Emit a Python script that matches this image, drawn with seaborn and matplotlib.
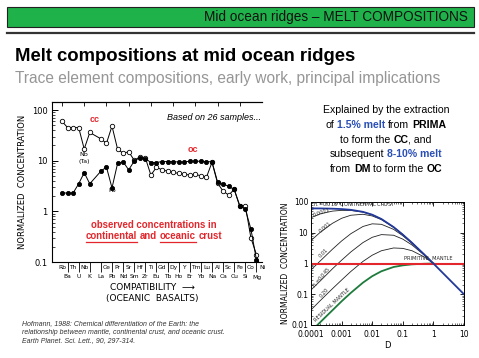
import numpy as np
import pandas as pd
import seaborn as sns
import matplotlib
matplotlib.use("Agg")
from matplotlib import pyplot as plt
from matplotlib.lines import Line2D
from matplotlib.patches import Rectangle
from matplotlib.ticker import FixedLocator, LogLocator, NullFormatter

# --- left panel: trace elements in continental (CC) and oceanic (OC) crust
elements = ["Rb", "Ba", "Th", "U", "Nb", "K", "", "La", "Ce", "Pb", "Pr", "Nd",
            "Sr", "Sm", "Hf", "Zr", "Ti", "Eu", "Gd", "Tb", "Dy", "Ho", "Y", "Er",
            "Tm", "Yb", "Lu", "Na", "Al", "Ca", "Sc", "Cu", "Fe", "Si", "Co", "Mg", "Ni"]
continental = [60, 45, 45, 45, 17, 36, None, 27, 22, 48, 17, 14, 15, 10.2, 11.8, 11.4,
               5.2, 7.4, 6.6, 6.2, 5.9, 5.6, 5.4, 5.2, 5.4, 5.0, 4.7, 9.3, 3.6, 2.5,
               2.1, 2.7, 1.25, 1.3, 0.3, 0.14, 0.06]
oceanic = [2.3, 2.3, 2.3, 3.5, 5.8, 3.5, None, 6.2, 7.5, 2.9, 8.8, 9.5, 6.6, 9.8, 11.5,
           11.0, 9.2, 9.2, 9.6, 9.6, 9.6, 9.4, 9.4, 9.8, 9.8, 9.7, 9.6, 9.5, 3.8, 3.5,
           3.1, 2.7, 1.3, 1.1, 0.45, 0.11, 0.05]

# --- right panel: normalized concentration vs bulk partition coefficient D
d_values = [0.0001, 0.0002, 0.0005, 0.001, 0.002, 0.005, 0.01, 0.02, 0.05, 0.1,
            0.2, 0.5, 1, 2, 5, 10]
crust_016 = [62, 61.7, 60.6, 58.9, 55.7, 47.8, 38.7, 28.0, 15.3, 8.7, 4.7, 1.97,
             1.0, 0.50, 0.20, 0.10]
melt_0001 = [31, 41, 50.5, 53.5, 53, 46.9, 38.3, 27.9, 15.3, 8.7, 4.7, 1.97, 1.0]
melt_001 = [5.6, 10.3, 20.2, 29.5, 37.1, 39.9, 35.2, 26.7, 15.0, 8.7, 4.7, 1.97, 1.0]
melt_01 = [0.62, 1.21, 2.9, 5.4, 9.3, 16.0, 19.5, 18.8, 12.9, 8.0, 4.5, 1.95, 1.0]
melt_045 = [0.138, 0.27, 0.67, 1.28, 2.37, 4.8, 7.1, 8.7, 8.3, 6.2, 4.0, 1.88, 1.0]
melt_20 = [0.031, 0.062, 0.151, 0.29, 0.55, 1.17, 1.86, 2.6, 3.2, 3.1, 2.6, 1.64, 1.0]
residual = [0.0062, 0.0123, 0.030, 0.059, 0.111, 0.239, 0.387, 0.56, 0.77, 0.87,
            0.94, 0.98, 1.0]
primitive = 1.0

W, H = 479, 358
SLIDE = ["Liberation Sans", "DejaVu Sans"]
RED = "#e3262b"
BLUE = "#2a4fb5"

fig = plt.figure(figsize=(W / 100, H / 100), dpi=100)
fig.patch.set_facecolor("white")
renderer = fig.canvas.get_renderer()


def fx(px):
    return px / W


def fy(py):
    return 1 - py / H


def text_width(s, **kw):
    t = fig.text(0, 0, s, **kw)
    w = t.get_window_extent(renderer).width
    t.remove()
    return w


def rich_line(xc, y, parts, size):
    # parts: (text, style, space_before); style may hold "ul" for underline
    base = dict(fontsize=size, family=SLIDE)
    sp = text_width("a a", **base) - text_width("aa", **base)
    widths = []
    for txt, style, gap in parts:
        st = {k: v for k, v in style.items() if k != "ul"}
        widths.append(text_width(txt, **base, **st))
    total = sum(widths) + sp * sum(1 for p in parts if p[2])
    x = xc - total / 2
    for (txt, style, gap), w in zip(parts, widths):
        if gap:
            x += sp
        st = {k: v for k, v in style.items() if k != "ul"}
        fig.text(fx(x), fy(y), txt, va="baseline", ha="left", **base, **st)
        if style.get("ul"):
            fig.add_artist(Line2D([fx(x), fx(x + w)], [fy(y + 2.5)] * 2, lw=0.9,
                                  color=style.get("color", "black"),
                                  transform=fig.transFigure))
        x += w


# header
fig.add_artist(Rectangle((fx(7), fy(27)), 467 / W, 20 / H, transform=fig.transFigure,
                         facecolor="#1fb24a", edgecolor="#222222", lw=0.8))
fig.text(fx(468), fy(21.5), "Mid ocean ridges \u2013 MELT COMPOSITIONS", ha="right",
         va="baseline", fontsize=9.8, family=SLIDE, color="#111111")
fig.add_artist(Line2D([fx(7), fx(474)], [fy(33)] * 2, lw=1.6, color="#333333",
                      transform=fig.transFigure))
fig.text(fx(15), fy(61), "Melt compositions at mid ocean ridges", fontsize=13.3,
         fontweight="bold", family=SLIDE, va="baseline")
fig.text(fx(15), fy(83), "Trace element compositions, early work, principal implications",
         fontsize=11.2, family=SLIDE, color="#969696", va="baseline")

# ---------------- left chart
axl = fig.add_axes([fx(52), fy(262), 210 / W, 160 / H])
pos = np.arange(len(elements))
spider = pd.DataFrame({"pos": np.concatenate([pos, pos]),
                       "value": np.array(continental + oceanic, dtype=float),
                       "crust": ["CC"] * len(pos) + ["OC"] * len(pos)}).dropna()
sns.lineplot(data=spider[spider.crust == "CC"], x="pos", y="value", ax=axl,
             color="black", lw=0.7, marker="o", markersize=3.2,
             markerfacecolor="white", markeredgecolor="black", markeredgewidth=0.6)
sns.lineplot(data=spider[spider.crust == "OC"], x="pos", y="value", ax=axl,
             color="black", lw=0.7, marker="o", markersize=3.0,
             markerfacecolor="black", markeredgecolor="black", markeredgewidth=0.6)
axl.set_yscale("log")
axl.set_ylim(0.1, 144)
axl.set_xlim(-1.8, 35.7)
axl.set_xlabel("")
axl.set_ylabel("")
axl.spines["right"].set_visible(False)
for s in axl.spines.values():
    s.set_linewidth(0.8)

axl.yaxis.set_major_locator(FixedLocator([0.1, 1, 10, 100]))
axl.set_yticklabels(["0.1", "1", "10", "100"])
axl.yaxis.set_minor_locator(LogLocator(base=10, subs=np.arange(2, 10)))
axl.yaxis.set_minor_formatter(NullFormatter())
axl.tick_params(axis="y", which="major", direction="in", length=4, width=0.7,
                labelsize=6, pad=3)
axl.tick_params(axis="y", which="minor", direction="in", length=2, width=0.5)

odd = pos[1::2]
even = pos[0::2]
axl.set_xticks(odd)
axl.set_xticklabels([elements[i] for i in odd])
axl.set_xticks(even, minor=True)
axl.set_xticklabels([elements[i] for i in even], minor=True)
axl.tick_params(axis="x", which="major", direction="out", length=7, width=0.6,
                labelsize=4.3, pad=2)
axl.tick_params(axis="x", which="minor", length=0, labelsize=4.3, pad=2.5)
top = axl.secondary_xaxis("top")
top.set_xticks(np.arange(0, 36, 4))
top.set_xticklabels([])
top.tick_params(direction="in", length=3, width=0.6)

fig.text(fx(23), fy(182), "NORMALIZED  CONCENTRATION", rotation=90, ha="center",
         va="center", fontsize=6)
fig.text(fx(152), fy(288), "COMPATIBILITY  \u27f6", ha="center", va="center",
         fontsize=6.5)
fig.text(fx(152), fy(298), "(OCEANIC  BASALTS)", ha="center", va="center",
         fontsize=6.5)
fig.text(fx(95), fy(119), "cc", ha="center", va="center", fontsize=6.5,
         fontweight="bold", color=RED, family=SLIDE)
fig.text(fx(193), fy(150), "oc", ha="center", va="center", fontsize=6.5,
         fontweight="bold", color=RED, family=SLIDE)
fig.text(fx(167), fy(117), "Based on 26 samples...", ha="left", va="center",
         fontsize=6.5, style="italic", family=SLIDE)
fig.text(fx(84), fy(154), "Nb", ha="center", va="center", fontsize=4.5)
fig.text(fx(84), fy(162), "(Ta)", ha="center", va="center", fontsize=4.5)
fig.text(fx(112), fy(190), "Pb", ha="center", va="center", fontsize=4.5)

red_b = dict(color=RED, fontweight="bold")
rich_line(154, 228, [("observed concentrations in", red_b, False)], 6.9)
rich_line(154, 239, [("continental", dict(red_b, ul=True), False),
                     ("and", red_b, True),
                     ("oceanic", dict(red_b, ul=True), True),
                     ("crust", red_b, True)], 6.9)

for i, line in enumerate(["Hofmann, 1988: Chemical differentiation of the Earth: the",
                          "relationship between mantle, continental crust, and oceanic crust.",
                          "Earth Planet. Sci. Lett., 90, 297-314."]):
    fig.text(fx(22), fy(325 + 8.6 * i), line, fontsize=5, style="italic",
             family=SLIDE, color="#333333", va="baseline")

# ---------------- right text block
bold = dict(fontweight="bold")
blue_b = dict(fontweight="bold", color=BLUE)
block = [
    [("Explained by the extraction", {}, False)],
    [("of", {}, False), ("1.5% melt", blue_b, True), ("from", {}, True),
     ("PRIMA", bold, True)],
    [("to form the", {}, False), ("CC", bold, True), (", and", {}, False)],
    [("subsequent", {}, False), ("8-10% melt", blue_b, True)],
    [("from", {}, False), ("DM", bold, True), ("to form the", {}, True),
     ("OC", bold, True)],
]
for i, parts in enumerate(block):
    rich_line(386, 113 + 14.8 * i, parts, 7.6)

# ---------------- right chart
axr = fig.add_axes([fx(311), fy(325), 153 / W, 123 / H])
n = len(melt_0001)
for vals in [melt_0001, melt_001, melt_01, melt_045, melt_20]:
    sns.lineplot(x=d_values[:n], y=vals, ax=axr, color="#222222", lw=0.6)
sns.lineplot(x=d_values[:n], y=residual, ax=axr, color="#1e7b3c", lw=1.3)
axr.axhline(primitive, color=RED, lw=1.5)
sns.lineplot(x=d_values, y=crust_016, ax=axr, color="#22399a", lw=1.3)
axr.set_xscale("log")
axr.set_yscale("log")
axr.set_xlim(0.0001, 10)
axr.set_ylim(0.01, 100)
axr.xaxis.set_major_locator(FixedLocator([0.0001, 0.001, 0.01, 0.1, 1, 10]))
axr.set_xticklabels(["0.0001", "0.001", "0.01", "0.1", "1", "10"])
axr.yaxis.set_major_locator(FixedLocator([0.01, 0.1, 1, 10, 100]))
axr.set_yticklabels(["0.01", "0.1", "1", "10", "100"])
for a in (axr.xaxis, axr.yaxis):
    a.set_minor_locator(LogLocator(base=10, subs=np.arange(2, 10)))
    a.set_minor_formatter(NullFormatter())
axr.tick_params(which="major", direction="in", length=3, width=0.6, labelsize=5.5,
                pad=2, top=True, right=True)
axr.tick_params(axis="x", which="major", pad=3.5)
axr.tick_params(which="minor", direction="in", length=1.5, width=0.4,
                top=True, right=True)
for s in axr.spines.values():
    s.set_linewidth(0.7)
axr.set_xlabel("D", fontsize=6, labelpad=1.5)
axr.set_ylabel("NORMALIZED  CONCENTRATION", fontsize=5.5, labelpad=1)

lab = dict(fontsize=3.6, color="#222222", ha="center", va="center")
axr.text(0.00012, 80, "F$_L$=0.016  CONTINENTAL CRUST", ha="left", va="center",
         fontsize=3.6, color="#222222")
axr.text(0.00022, 47, "0.0001", rotation=20, **lab)
axr.text(0.00029, 15, "0.001", rotation=40, **lab)
axr.text(0.00025, 2.2, "0.01", rotation=45, **lab)
axr.text(0.00023, 0.36, "F$_L$=0.045", rotation=50, **lab)
axr.text(0.00027, 0.11, "0.20", rotation=48, **lab)
axr.text(0.0005, 0.045, "RESIDUAL MANTLE", rotation=43, **lab)
axr.text(0.66, 1.25, "PRIMITIVE  MANTLE", fontsize=3.6, color="#222222",
         ha="center", va="bottom")

fig.savefig("out.png", dpi=100)
